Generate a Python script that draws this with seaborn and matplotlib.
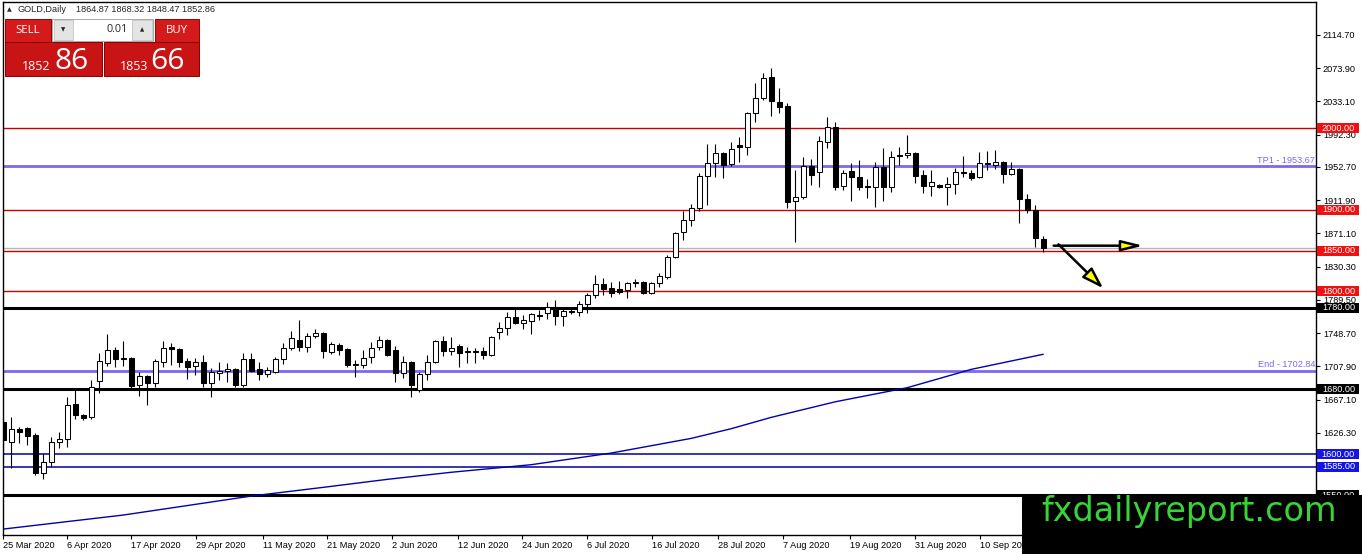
import numpy as np
import pandas as pd
import matplotlib
matplotlib.use("Agg")
import matplotlib.pyplot as plt
import matplotlib.transforms as mtransforms
from matplotlib.patches import Rectangle
import seaborn as sns

W, H = 1362, 554

# daily GOLD candles, 25 Mar 2020 .. 23 Sep 2020
opens = [1639.6, 1615.1, 1631.1, 1632.3, 1623.7, 1577.1, 1590.6, 1615.1, 1618.8, 1661.8,
         1648.3, 1645.8, 1690.0, 1712.1, 1728.0, 1718.2, 1718.2, 1685.1, 1696.1, 1687.5,
         1713.3, 1731.7, 1729.3, 1714.5, 1708.4, 1713.3, 1687.5, 1699.8, 1702.3, 1704.7,
         1685.1, 1717.0, 1704.7, 1698.6, 1701.0, 1717.0, 1730.5, 1740.3, 1731.7, 1745.2,
         1748.9, 1725.6, 1734.2, 1729.3, 1710.8, 1709.6, 1719.4, 1731.7, 1740.3, 1728.0,
         1699.8, 1713.3, 1679.0, 1698.6, 1713.3, 1739.1, 1726.8, 1732.9, 1726.8, 1726.8,
         1726.8, 1721.9, 1750.1, 1755.1, 1768.5, 1761.2, 1763.6, 1771.0, 1773.5, 1780.8,
         1769.8, 1775.9, 1774.7, 1784.5, 1795.5, 1809.0, 1804.1, 1802.9, 1801.7, 1811.5,
         1811.5, 1798.0, 1810.3, 1817.6, 1842.2, 1872.9, 1887.6, 1902.3, 1941.6, 1957.6,
         1969.9, 1956.3, 1979.7, 1977.2, 2019.0, 2037.4, 2063.1, 2032.5, 2027.5, 1910.9,
         1915.8, 1953.9, 1946.5, 1983.4, 2001.8, 1929.3, 1947.8, 1940.4, 1929.3, 1928.1,
         1952.7, 1928.1, 1967.4, 1967.4, 1969.9, 1942.9, 1929.3, 1930.6, 1928.1, 1931.8,
         1946.5, 1945.3, 1940.4, 1956.3, 1955.1, 1958.8, 1944.1, 1950.2, 1913.4, 1899.9,
         1864.87]
highs = [1644.6, 1645.8, 1633.5, 1633.5, 1626.1, 1601.6, 1621.2, 1627.4, 1670.3, 1679.0,
         1649.5, 1691.2, 1724.3, 1747.7, 1731.7, 1739.1, 1719.4, 1701.0, 1697.3, 1717.0,
         1739.1, 1736.6, 1730.5, 1718.2, 1718.2, 1721.9, 1705.9, 1713.3, 1712.1, 1705.9,
         1724.3, 1724.3, 1713.3, 1707.2, 1719.4, 1736.6, 1751.4, 1764.9, 1748.9, 1753.8,
         1750.1, 1737.8, 1736.6, 1730.5, 1715.8, 1728.0, 1737.8, 1745.2, 1741.5, 1732.9,
         1720.7, 1714.5, 1701.0, 1721.9, 1740.3, 1745.2, 1744.0, 1735.4, 1731.7, 1730.5,
         1731.7, 1745.2, 1762.4, 1774.7, 1780.8, 1771.0, 1773.5, 1777.1, 1786.9, 1789.4,
         1780.8, 1779.6, 1788.2, 1798.0, 1820.1, 1816.4, 1811.5, 1812.7, 1811.5, 1815.2,
         1812.7, 1811.5, 1822.6, 1844.7, 1872.9, 1898.7, 1907.3, 1945.3, 1980.9, 1980.9,
         1971.1, 1983.4, 1989.5, 2020.2, 2055.8, 2068.0, 2074.2, 2049.6, 2031.2, 1949.0,
         1964.9, 1962.5, 1990.7, 2014.1, 2007.9, 1949.0, 1957.6, 1961.3, 1938.0, 1958.8,
         1976.0, 1972.3, 1977.2, 1992.0, 1971.1, 1949.0, 1949.0, 1931.8, 1940.4, 1951.4,
         1966.2, 1949.0, 1971.1, 1972.3, 1973.6, 1960.0, 1958.8, 1951.4, 1919.5, 1906.0,
         1868.32]
lows = [1596.7, 1583.2, 1613.9, 1611.4, 1574.6, 1569.7, 1584.4, 1607.7, 1609.0, 1643.4,
        1642.1, 1643.4, 1675.3, 1708.4, 1707.2, 1708.4, 1679.0, 1671.6, 1660.5, 1682.6,
        1707.2, 1709.6, 1707.2, 1692.4, 1697.3, 1682.6, 1670.3, 1691.2, 1688.8, 1682.6,
        1682.6, 1701.0, 1691.2, 1694.9, 1699.8, 1710.8, 1728.0, 1726.8, 1725.6, 1742.8,
        1718.2, 1723.1, 1721.9, 1707.2, 1694.9, 1705.9, 1712.1, 1728.0, 1720.7, 1688.8,
        1693.7, 1670.3, 1676.5, 1691.2, 1712.1, 1720.7, 1721.9, 1707.2, 1712.1, 1712.1,
        1717.0, 1720.7, 1741.5, 1746.4, 1760.0, 1753.8, 1747.7, 1764.9, 1766.1, 1758.7,
        1757.5, 1772.2, 1769.8, 1773.5, 1791.9, 1795.5, 1793.1, 1796.8, 1791.9, 1805.4,
        1796.8, 1796.8, 1805.4, 1815.2, 1841.0, 1863.0, 1880.2, 1898.7, 1906.0, 1940.4,
        1939.2, 1953.9, 1958.8, 1967.4, 2007.9, 2034.9, 2015.3, 2019.0, 1902.3, 1860.6,
        1913.4, 1930.6, 1928.1, 1976.0, 1924.4, 1924.4, 1910.9, 1924.4, 1914.6, 1903.6,
        1910.9, 1921.9, 1955.1, 1963.7, 1933.0, 1920.7, 1917.1, 1926.9, 1906.0, 1919.5,
        1940.4, 1936.7, 1939.2, 1949.0, 1950.2, 1933.0, 1942.9, 1883.9, 1896.2, 1854.5,
        1848.47]
closes = [1617.6, 1631.1, 1627.4, 1622.4, 1577.1, 1590.6, 1615.1, 1618.8, 1660.5, 1648.3,
          1644.6, 1682.6, 1714.5, 1728.0, 1717.0, 1717.0, 1683.9, 1696.1, 1687.5, 1714.5,
          1730.5, 1729.3, 1713.3, 1707.2, 1713.3, 1687.5, 1701.0, 1702.3, 1704.7, 1685.1,
          1717.0, 1702.3, 1698.6, 1703.5, 1717.0, 1730.5, 1742.8, 1731.7, 1745.2, 1748.9,
          1726.8, 1735.4, 1728.0, 1709.6, 1709.6, 1718.2, 1730.5, 1740.3, 1721.9, 1699.8,
          1713.3, 1685.1, 1698.6, 1713.3, 1739.1, 1726.8, 1730.5, 1724.3, 1725.6, 1725.6,
          1721.9, 1744.0, 1755.1, 1768.5, 1761.2, 1764.9, 1772.2, 1769.8, 1780.8, 1769.8,
          1775.9, 1774.7, 1784.5, 1795.5, 1809.0, 1802.9, 1798.0, 1799.2, 1810.3, 1810.3,
          1798.0, 1810.3, 1818.9, 1842.2, 1871.6, 1887.6, 1902.3, 1941.6, 1957.6, 1969.9,
          1955.1, 1974.8, 1977.2, 2019.0, 2037.4, 2061.9, 2033.7, 2026.3, 1909.7, 1915.8,
          1953.9, 1942.9, 1984.6, 2001.8, 1928.1, 1945.3, 1940.4, 1928.1, 1928.1, 1952.7,
          1928.1, 1964.9, 1966.2, 1969.9, 1941.6, 1929.3, 1934.2, 1928.1, 1931.8, 1946.5,
          1945.3, 1939.2, 1957.6, 1957.6, 1958.8, 1944.1, 1950.2, 1913.4, 1899.9, 1865.5,
          1852.86]

# moving average (blue curve), sampled at a few bars
ma_bars = [0, 15, 31, 40, 48, 56, 66, 76, 86, 91, 96, 104, 113, 121, 130]
ma_vals = [1508.3, 1525.5, 1548.8, 1559.5, 1569.3, 1578.0, 1587.3, 1601.6, 1619.6, 1631.5,
           1645.4, 1664.5, 1681.8, 1704.3, 1722.8]

date_labels = ["25 Mar 2020", "6 Apr 2020", "17 Apr 2020", "29 Apr 2020", "11 May 2020",
               "21 May 2020", "2 Jun 2020", "12 Jun 2020", "24 Jun 2020", "6 Jul 2020",
               "16 Jul 2020", "28 Jul 2020", "7 Aug 2020", "19 Aug 2020", "31 Aug 2020",
               "10 Sep 2020"]
date_ticks = [0, 7.9, 16, 24.1, 32.4, 40.4, 48.6, 56.8, 64.8, 73, 81.1, 89.4, 97.5, 105.8, 114, 122.1]

price_ticks = [2114.70, 2073.90, 2033.10, 1992.30, 1952.70, 1911.90, 1871.10, 1830.30,
               1789.50, 1748.70, 1707.90, 1667.10, 1626.30, 1585.50]

levels = [2000, 1900, 1850, 1800, 1780, 1680, 1600, 1585, 1550]
level_kind = ["red", "red", "red", "red", "black", "black", "blue", "blue", "black"]
targets = [1953.67, 1702.84]
target_names = ["TP1", "End"]
bid = 1852.86
ask = 1853.66

# arrows drawn by the analyst (bar index, price)
arrow_flat = ((131.3, 1856.1), (142.5, 1856.1))
arrow_down = ((131.9, 1857.8), (137.5, 1803.8))

df = pd.DataFrame({"open": opens, "high": highs, "low": lows, "close": closes})
df["bar"] = np.arange(len(df))

sns.set_style("white")
plt.rcParams["font.family"] = ["Liberation Sans", "DejaVu Sans"]

fig = plt.figure(figsize=(W / 100, H / 100), dpi=100, facecolor="white")
ax = fig.add_axes([3 / W, 1 - 535 / H, 1313 / W, 533 / H])
ax.set_facecolor("white")

line_style = {
    "red": dict(color="#cc0000", lw=1.0),
    "black": dict(color="black", lw=2.2),
    "blue": dict(color="#000099", lw=1.1),
}
box_color = {"red": "#f01010", "black": "black", "blue": "#1414e6"}

for lv, kind in zip(levels, level_kind):
    ax.axhline(lv, zorder=1.5, **line_style[kind])
ax.axhline(bid, color="#b8b8b8", lw=1.0, zorder=1.4)
for tg in targets:
    ax.axhline(tg, color="#7b68ee", lw=2.0, zorder=1.5)

# moving average
sns.lineplot(x=ma_bars, y=ma_vals, ax=ax, color="#0000b0", lw=1.0, zorder=2.2)

# candles
up = df["close"] >= df["open"]
ax.vlines(df["bar"], df["low"], df["high"], color="black", lw=0.8, zorder=3)
body_lo = np.minimum(df["open"], df["close"])
body_h = np.maximum((df["close"] - df["open"]).abs(), 1.0)
ax.bar(df["bar"], body_h, bottom=body_lo, width=0.62,
       color=np.where(up, "white", "black"), edgecolor="black", lw=0.75, zorder=4)

ax.set_xlim(-0.05, 164.1)
ax.set_ylim(1501.0, 2155.2)

# axes cosmetics
for sp in ax.spines.values():
    sp.set_color("black")
    sp.set_linewidth(1.0)
ax.yaxis.tick_right()
ax.set_yticks(price_ticks)
ax.set_yticklabels([f"{v:.2f}" for v in price_ticks])
ax.set_xticks(date_ticks)
ax.set_xticklabels(date_labels)
for lab in ax.get_xticklabels():
    lab.set_horizontalalignment("left")
ax.tick_params(axis="y", right=True, left=False, labelright=True, labelleft=False,
               length=3, width=0.8, pad=2, labelsize=6.6, colors="black")
ax.tick_params(axis="x", bottom=True, length=3, width=0.8, pad=1.5, labelsize=6.6, colors="black")
ax.set_xlabel("")
ax.set_ylabel("")

# price boxes on the right scale
blend = mtransforms.blended_transform_factory(ax.transAxes, ax.transData)
for lv, kind in zip(levels, level_kind):
    ax.add_patch(Rectangle((1.0011, lv - 6.2), 0.032, 12.4, transform=blend,
                           facecolor=box_color[kind], edgecolor="none", clip_on=False, zorder=6))
    ax.text(1.0171, lv, f"{lv:.2f}", transform=blend, ha="center", va="center",
            color="white", fontsize=6.6, clip_on=False, zorder=7)

for tg, name in zip(targets, target_names):
    ax.text(0.9992, tg + 1.6, f"{name} - {tg:.2f}", transform=blend, ha="right", va="bottom",
            color="#7b68ee", fontsize=6.6, zorder=5)

# analyst arrows
for (start, end), hw in zip([arrow_flat, arrow_down], [0.32, 0.42]):
    ax.annotate("", xy=end, xytext=start,
                arrowprops=dict(arrowstyle=f"-|>,head_length=1.3,head_width={hw}",
                                fc="#ffff00", ec="black", lw=1.8, shrinkA=0, shrinkB=0),
                zorder=5)


def px_rect(x0, y0, x1, y1, **kw):
    fig.add_artist(Rectangle((x0 / W, 1 - y1 / H), (x1 - x0) / W, (y1 - y0) / H,
                             transform=fig.transFigure, **kw))


def px_text(x, y, s, **kw):
    fig.text(x / W, 1 - y / H, s, **kw)


# header line
px_text(7, 10, "▲", fontsize=4.5, family="DejaVu Sans", va="center", ha="left")
px_text(17, 10, "GOLD,Daily", fontsize=6.6, va="center", ha="left")
px_text(76, 10, f"{opens[-1]:.2f} {highs[-1]:.2f} {lows[-1]:.2f} {closes[-1]:.2f}",
        fontsize=6.6, va="center", ha="left")

# one-click trading panel
red = "#d41a1a"
px_rect(5, 19, 51, 42, facecolor=red, edgecolor="#9a0000", lw=0.7, zorder=20)
px_rect(155, 19, 199, 42, facecolor=red, edgecolor="#9a0000", lw=0.7, zorder=20)
px_text(28, 30.5, "SELL", fontsize=8.2, family="Open Sans", color="white", ha="center", va="center", zorder=21)
px_text(177, 30.5, "BUY", fontsize=8.2, family="Open Sans", color="white", ha="center", va="center", zorder=21)
px_rect(52, 19, 153, 41, facecolor="white", edgecolor="#a8a8a8", lw=0.7, zorder=20)
px_rect(53.5, 20.5, 73, 39.5, facecolor="#e4e4e4", edgecolor="#c4c4c4", lw=0.6, zorder=21)
px_rect(132, 20.5, 151.5, 39.5, facecolor="#e4e4e4", edgecolor="#c4c4c4", lw=0.6, zorder=21)
px_text(63, 30, "▼", fontsize=4, family="DejaVu Sans", ha="center", va="center", zorder=22)
px_text(142, 30, "▲", fontsize=4, family="DejaVu Sans", ha="center", va="center", zorder=22)
px_text(128, 30, "0.01", fontsize=7.8, family="Open Sans", ha="right", va="center", zorder=22)
px_rect(5, 42, 102, 76, facecolor="#c81414", edgecolor="#8a0000", lw=0.7, zorder=20)
px_rect(104, 42, 199, 76, facecolor="#c81414", edgecolor="#8a0000", lw=0.7, zorder=20)
bid_str, ask_str = f"{bid:.2f}", f"{ask:.2f}"
px_text(22, 70, bid_str[:4], fontsize=9, family="Open Sans", color="white", ha="left", va="baseline", zorder=21)
px_text(55, 69, bid_str[-2:], fontsize=21.5, family="Open Sans", color="white", ha="left", va="baseline", zorder=21)
px_text(120, 70, ask_str[:4], fontsize=9, family="Open Sans", color="white", ha="left", va="baseline", zorder=21)
px_text(150, 69, ask_str[-2:], fontsize=21.5, family="Open Sans", color="white", ha="left", va="baseline", zorder=21)

# watermark
px_rect(1022, 495, W, H, facecolor="black", edgecolor="none", zorder=30)
px_text(1189, 521, "fxdailyreport.com", fontsize=24, family="DejaVu Sans", color="#36d436",
        ha="center", va="baseline", zorder=31)

fig.savefig("out.png", dpi=100, facecolor="white")
